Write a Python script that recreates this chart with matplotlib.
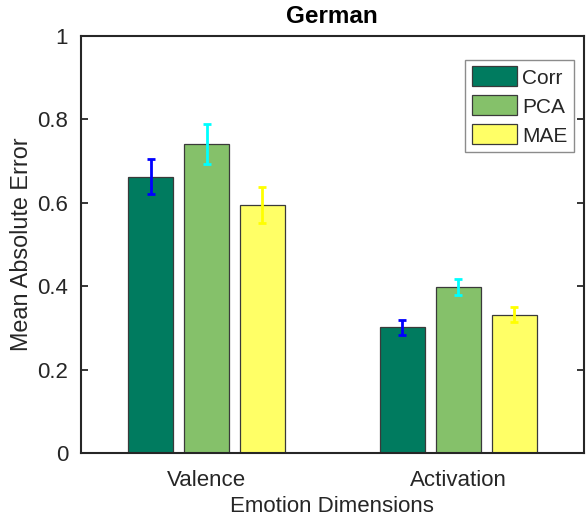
import numpy as np
import matplotlib
matplotlib.use("Agg")
import matplotlib.pyplot as plt

plt.rcParams['font.family'] = ['Liberation Sans', 'DejaVu Sans']

# values
dims = ['Valence', 'Activation']
methods = ['Corr', 'PCA', 'MAE']
corr_mean = [0.663, 0.301]
pca_mean = [0.741, 0.398]
mae_mean = [0.594, 0.332]
corr_err = [0.043, 0.017]
pca_err = [0.047, 0.020]
mae_err = [0.043, 0.019]

means = [corr_mean, pca_mean, mae_mean]
errs = [corr_err, pca_err, mae_err]
bar_colors = ['#007b5f', '#85c16a', '#ffff66']
err_colors = ['#0000ff', '#00ffff', '#ffff00']

txt = '#262626'

fig = plt.figure(figsize=(5.86, 5.24), dpi=100)
ax = fig.add_axes([0.1377, 0.1355, 0.8589, 0.7958])

x = np.arange(1, len(dims) + 1)
w = 0.179
step = 0.222
for i, m in enumerate(methods):
    xi = x + (i - 1) * step
    ax.bar(xi, means[i], width=w, color=bar_colors[i], edgecolor='#3a3a3a',
           linewidth=0.9, label=m, zorder=2)
    ax.errorbar(xi, means[i], yerr=errs[i], fmt='none', ecolor=err_colors[i],
                elinewidth=2, capsize=3, capthick=2, zorder=3)

ax.set_xlim(0.5, 2.5)
ax.set_ylim(0, 1)
ax.set_xticks(x)
ax.set_xticklabels(dims)
ax.set_yticks([0, 0.2, 0.4, 0.6, 0.8, 1])
ax.set_yticklabels(['0', '0.2', '0.4', '0.6', '0.8', '1'])
ax.tick_params(axis='y', direction='in', length=5, width=1.3, right=True,
               labelsize=16, colors=txt, pad=9)
ax.tick_params(axis='x', length=0, labelsize=16, colors=txt, pad=12)
for s in ax.spines.values():
    s.set_linewidth(1.5)
    s.set_color(txt)

ax.set_xlabel('Emotion Dimensions', fontsize=16, color=txt, labelpad=4)
ax.set_ylabel('Mean Absolute Error', fontsize=16.8, color=txt, labelpad=3)
ax.set_title('German', fontsize=17.5, fontweight='bold', color='black', pad=9)

leg = ax.legend(loc='upper right', bbox_to_anchor=(0.980, 0.943),
                fontsize=15, fancybox=False, framealpha=1,
                edgecolor='#8c8c8c', handlelength=2.15, handleheight=1.1,
                labelspacing=0.38, handletextpad=0.25, borderpad=0.32,
                borderaxespad=0)
leg.get_frame().set_linewidth(1.0)
for t in leg.get_texts():
    t.set_color(txt)

fig.savefig('out.png', dpi=100)
